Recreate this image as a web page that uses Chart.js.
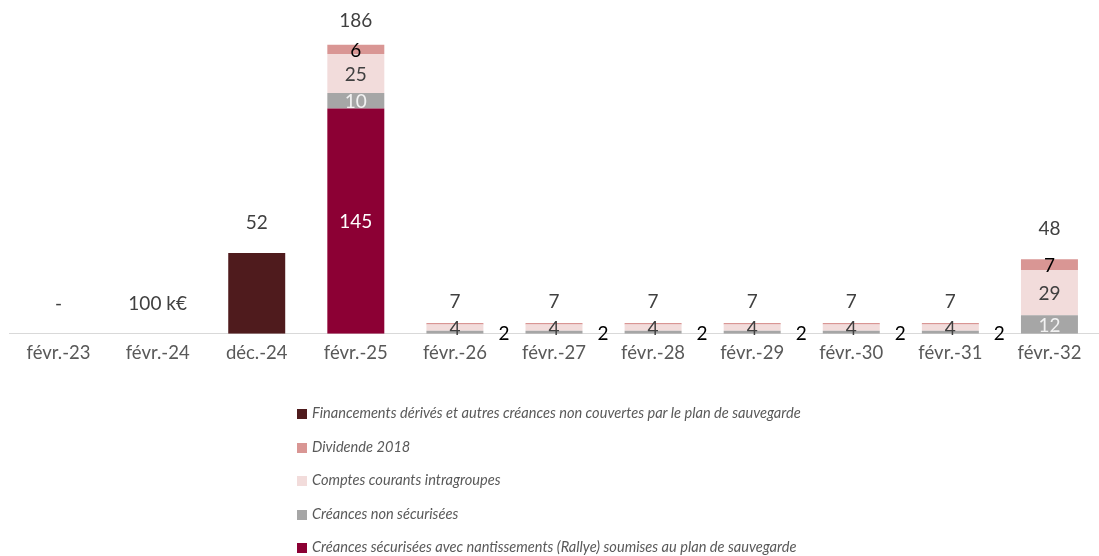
<!DOCTYPE html>
<html>
<head>
<meta charset="utf-8">
<script src="https://cdn.jsdelivr.net/npm/chart.js@4.4.1/dist/chart.umd.min.js"></script>
<style>
    html, body { margin: 0; padding: 0; background: #fff; }
    #wrap { position: relative; width: 1099px; height: 556px; }
    #legend {
        position: absolute; left: 297px; top: 396px; margin: 0; padding: 0;
        list-style: none; font-family: Lato, sans-serif; font-style: italic;
        font-size: 14.6px; color: #595959;
    }
    #legend li { height: 33.5px; line-height: 33.5px; white-space: nowrap; }
    #legend span.box { display: inline-block; width: 10px; height: 10px; margin-right: 5px; vertical-align: -1px; }
</style>
</head>
<body>
<div id="wrap">
    <canvas id="myChart" width="1099" height="556"></canvas>
    <ul id="legend"></ul>
</div>
<script>
// Categories (x axis)
const categories = ['févr.-23', 'févr.-24', 'déc.-24', 'févr.-25', 'févr.-26', 'févr.-27',
    'févr.-28', 'févr.-29', 'févr.-30', 'févr.-31', 'févr.-32'];

// Series, bottom to top of each stack
const securisees = [0, 0, 0, 145, 0, 0, 0, 0, 0, 0, 0];
const nonSecurisees = [0, 0, 0, 10, 2, 2, 2, 2, 2, 2, 12];
const comptesCourants = [0, 0, 0, 25, 4, 4, 4, 4, 4, 4, 29];
const dividende = [0, 0, 0, 6, 1, 1, 1, 1, 1, 1, 7];
const financements = [0, 0.1, 52, 0, 0, 0, 0, 0, 0, 0, 0];

// Labels written above each stack
const totalLabels = ['-', '100 k€', '52', '186', '7', '7', '7', '7', '7', '7', '48'];

// How far above the stack the total sits (px)
const totalLift = [30, 30, 30, 24, 21, 21, 21, 21, 21, 21, 30];

const FONT = 'Lato, sans-serif';

// Draws segment values and totals
const valueLabels = {
    id: 'valueLabels',
    afterDatasetsDraw(chart) {
        const ctx = chart.ctx;
        const y = chart.scales.y;
        ctx.save();
        ctx.font = '19px ' + FONT;
        ctx.textAlign = 'center';
        ctx.textBaseline = 'middle';

        chart.data.datasets.forEach((ds, d) => {
            if (!ds.labelColor) return;
            chart.getDatasetMeta(d).data.forEach((bar, i) => {
                const v = ds.data[i];
                if (v < 2) return;
                ctx.fillStyle = ds.labelColor;
                if (v < 4) {
                    // too thin: put it beside the bar
                    ctx.fillStyle = '#000';
                    ctx.fillText(v, bar.x + 49, y.getPixelForValue(0));
                } else {
                    ctx.fillText(v, bar.x, (bar.y + bar.base) / 2 + 1);
                }
            });
        });

        // Totals
        const meta = chart.getDatasetMeta(0);
        ctx.fillStyle = '#404040';
        categories.forEach((c, i) => {
            let sum = 0;
            chart.data.datasets.forEach(ds => sum += ds.data[i]);
            const top = y.getPixelForValue(sum);
            ctx.fillText(totalLabels[i], meta.data[i].x, top - totalLift[i]);
        });
        ctx.restore();
    }
};

const chart = new Chart(document.getElementById('myChart'), {
    type: 'bar',
    data: {
        labels: categories,
        datasets: [
            { label: 'Créances sécurisées avec nantissements (Rallye) soumises au plan de sauvegarde',
              data: securisees, backgroundColor: '#8C0034', labelColor: '#ffffff' },
            { label: 'Créances non sécurisées',
              data: nonSecurisees, backgroundColor: '#A6A6A6', labelColor: '#f2f2f2' },
            { label: 'Comptes courants intragroupes',
              data: comptesCourants, backgroundColor: '#F2DCDB', labelColor: '#404040' },
            { label: 'Dividende 2018',
              data: dividende, backgroundColor: '#D99694', labelColor: '#000000' },
            { label: 'Financements dérivés et autres créances non couvertes par le plan de sauvegarde',
              data: financements, backgroundColor: '#4F1B1D' }
        ]
    },
    options: {
        responsive: false,
        animation: false,
        layout: { padding: { top: 23, left: 9, right: -2, bottom: 184 } },
        datasets: { bar: { categoryPercentage: 1, barPercentage: 0.575 } },
        plugins: { legend: { display: false }, tooltip: { enabled: false } },
        scales: {
            x: {
                stacked: true,
                grid: { display: false, drawTicks: false },
                border: { color: '#d9d9d9', width: 1 },
                ticks: { color: '#595959', font: { family: FONT, size: 18.5 }, padding: 8 }
            },
            y: { stacked: true, display: false, min: 0, max: 200 }
        }
    },
    plugins: [valueLabels]
});

// Legend, one item per line, top series first
const legend = document.getElementById('legend');
chart.data.datasets.slice().reverse().forEach(ds => {
    const li = document.createElement('li');
    li.innerHTML = '<span class="box" style="background:' + ds.backgroundColor + '"></span>' + ds.label;
    legend.appendChild(li);
});
</script>
</body>
</html>
